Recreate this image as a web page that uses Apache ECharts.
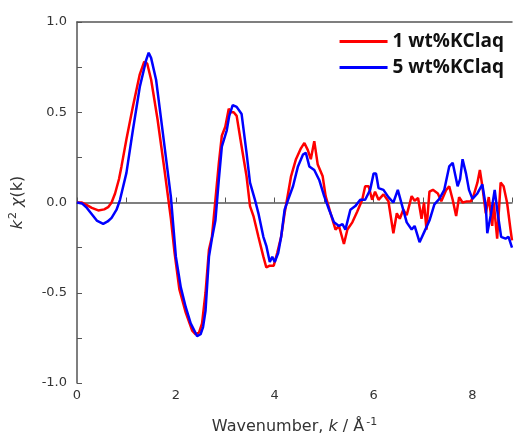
<!DOCTYPE html>
<html>
<head>
<meta charset="utf-8">
<script src="https://cdn.jsdelivr.net/npm/echarts@6/dist/echarts.min.js"></script>
<style>
  html, body { margin: 0; padding: 0; background: #fff; }
  #chart { width: 515px; height: 441px; }
</style>
</head>
<body>
<div id="chart"></div>
<script>
// k (1/Å) and k^2 chi(k)
const kRed = [0, 0.1, 0.2, 0.3, 0.43, 0.55, 0.63, 0.7, 0.77, 0.85, 0.9, 1.0, 1.13, 1.27, 1.36, 1.42, 1.5, 1.63, 1.77, 1.9,
  1.97, 2.07, 2.2, 2.33, 2.4, 2.47, 2.53, 2.6, 2.67, 2.73, 2.8, 2.87, 2.93, 3.0, 3.07, 3.12, 3.17, 3.23, 3.33, 3.43,
  3.5, 3.57, 3.67, 3.77, 3.83, 3.9, 3.98, 4.05, 4.13, 4.2, 4.27, 4.33, 4.43, 4.53, 4.6, 4.67, 4.73, 4.8, 4.87, 4.97,
  5.03, 5.13, 5.23, 5.3, 5.4, 5.47, 5.57, 5.67, 5.77, 5.83, 5.9, 5.97, 6.03, 6.1, 6.2, 6.3, 6.4, 6.47, 6.53, 6.6,
  6.67, 6.77, 6.83, 6.9, 6.97, 7.02, 7.07, 7.13, 7.2, 7.3, 7.37, 7.47, 7.53, 7.6, 7.67, 7.73, 7.8, 7.87, 7.97, 8.03,
  8.1, 8.15, 8.2, 8.27, 8.33, 8.4, 8.43, 8.5, 8.57, 8.63, 8.7, 8.77, 8.8];
const red = [0, 0, -0.015, -0.03, -0.044, -0.038, -0.026, 0.0, 0.05, 0.13, 0.2, 0.35, 0.53, 0.71, 0.78, 0.77, 0.68, 0.46, 0.18, -0.09,
  -0.27, -0.48, -0.61, -0.71, -0.73, -0.72, -0.67, -0.5, -0.26, -0.19, 0.015, 0.22, 0.37, 0.42, 0.52, 0.5, 0.5, 0.48, 0.31, 0.145,
  -0.02, -0.075, -0.19, -0.3, -0.36, -0.35, -0.35, -0.28, -0.19, -0.06, 0.05, 0.145, 0.24, 0.3, 0.33, 0.29, 0.24, 0.34, 0.21, 0.145,
  0.035, -0.06, -0.15, -0.13, -0.23, -0.15, -0.11, -0.05, 0.015, 0.09, 0.09, 0.015, 0.06, 0.015, 0.045, 0.007, -0.17, -0.06, -0.09, -0.04,
  -0.07, 0.035, 0.01, 0.025, -0.09, 0.0, -0.15, 0.06, 0.07, 0.05, 0.007, 0.07, 0.09, 0.015, -0.075, 0.03, 0.0, 0.005, 0.007, 0.045,
  0.11, 0.18, 0.09, -0.06, 0.03, -0.13, 0.0, -0.2, 0.11, 0.09, 0.0, -0.15, -0.21];

const kBlue = [0, 0.1, 0.2, 0.3, 0.4, 0.53, 0.62, 0.7, 0.8, 0.87, 1.0, 1.13, 1.27, 1.4, 1.45, 1.5, 1.6, 1.73, 1.9, 2.0,
  2.1, 2.2, 2.3, 2.43, 2.5, 2.55, 2.6, 2.67, 2.73, 2.8, 2.87, 2.93, 3.03, 3.08, 3.15, 3.23, 3.33, 3.43, 3.5, 3.6,
  3.67, 3.77, 3.83, 3.9, 3.95, 4.0, 4.07, 4.13, 4.2, 4.27, 4.37, 4.47, 4.57, 4.63, 4.7, 4.8, 4.9, 5.0, 5.1, 5.2,
  5.3, 5.37, 5.43, 5.53, 5.63, 5.73, 5.83, 5.93, 6.0, 6.05, 6.1, 6.2, 6.3, 6.4, 6.49, 6.57, 6.67, 6.77, 6.83, 6.93,
  7.03, 7.13, 7.23, 7.33, 7.43, 7.53, 7.6, 7.7, 7.75, 7.8, 7.87, 7.93, 8.0, 8.1, 8.2, 8.27, 8.3, 8.37, 8.45, 8.5,
  8.58, 8.67, 8.73, 8.8];
const blue = [0, -0.005, -0.03, -0.065, -0.1, -0.118, -0.105, -0.085, -0.04, 0.015, 0.164, 0.4, 0.64, 0.79, 0.83, 0.8, 0.68, 0.4, 0.03, -0.3,
  -0.47, -0.58, -0.67, -0.74, -0.73, -0.69, -0.6, -0.3, -0.2, -0.1, 0.13, 0.31, 0.4, 0.48, 0.54, 0.53, 0.49, 0.275, 0.11, 0.015,
  -0.06, -0.19, -0.24, -0.33, -0.3, -0.33, -0.28, -0.19, -0.04, 0.015, 0.09, 0.2, 0.265, 0.275, 0.2, 0.18, 0.125, 0.035, -0.04, -0.11,
  -0.13, -0.12, -0.15, -0.04, -0.02, 0.015, 0.015, 0.07, 0.16, 0.16, 0.08, 0.07, 0.03, 0.0, 0.07, -0.01, -0.11, -0.15, -0.13, -0.22,
  -0.16, -0.1, -0.01, 0.02, 0.07, 0.2, 0.22, 0.09, 0.13, 0.24, 0.16, 0.07, 0.02, 0.05, 0.1, -0.02, -0.17, -0.07, 0.07, -0.04,
  -0.19, -0.2, -0.19, -0.25];

const seriesNames = ['1 wt%KClaq', '5 wt%KClaq'];

const zip = (xs, ys) => xs.map((x, i) => [x, ys[i]]);

const chart = echarts.init(document.getElementById('chart'));
const axisColor = '#555';
const labelFont = { fontFamily: 'DejaVu Sans', fontSize: 13, color: '#333' };

chart.setOption({
  animation: false,
  color: ['#ff0000', '#0000ff'],
  grid: { left: 74, right: 0, top: 22, bottom: 58 },
  legend: {
    data: seriesNames,
    orient: 'vertical',
    right: 6,
    top: 27,
    icon: 'rect',
    itemWidth: 48,
    itemHeight: 3,
    itemGap: 7,
    textStyle: { fontFamily: 'Open Sans', fontWeight: 'bold', fontSize: 19, color: '#111' }
  },
  xAxis: [
    {
      type: 'value',
      min: 0,
      max: 8.8,
      interval: 1,
      name: 'Wavenumber, {i|k} / Å{s|-1}',
      nameLocation: 'middle',
      nameGap: 34,
      nameTextStyle: {
        fontFamily: 'DejaVu Sans', fontSize: 16, color: '#333',
        rich: {
          i: { fontFamily: 'DejaVu Sans', fontSize: 16, fontStyle: 'italic', color: '#333' },
          s: { fontFamily: 'DejaVu Sans', fontSize: 11, color: '#333', verticalAlign: 'top', padding: [0, 0, 8, 2] }
        }
      },
      axisLine: { show: true, lineStyle: { color: axisColor, width: 1.5 } },
      axisTick: { show: true, inside: true, length: 5, lineStyle: { color: axisColor } },
      axisLabel: Object.assign({ margin: 6, formatter: v => (Math.abs(v % 2) < 1e-9 ? String(v) : '') }, labelFont),
      splitLine: { show: false }
    },
    {
      type: 'value',
      position: 'top',
      min: 0,
      max: 8.8,
      axisLine: { show: true, lineStyle: { color: axisColor, width: 1.5 } },
      axisTick: { show: false },
      axisLabel: { show: false },
      splitLine: { show: false }
    }
  ],
  yAxis: {
    type: 'value',
    min: -1,
    max: 1,
    interval: 0.25,
    name: '{i|k}{s|2} {i|χ}(k)',
    nameLocation: 'middle',
    nameGap: 50,
    nameRotate: 90,
    nameTextStyle: {
      fontFamily: 'DejaVu Sans', fontSize: 16, color: '#333',
      rich: {
        i: { fontFamily: 'DejaVu Sans', fontSize: 16, fontStyle: 'italic', color: '#333' },
        s: { fontFamily: 'DejaVu Sans', fontSize: 11, color: '#333', verticalAlign: 'top', padding: [0, 0, 8, 1] }
      }
    },
    axisLine: { show: true, lineStyle: { color: axisColor, width: 1.5 } },
    axisTick: { show: true, inside: true, length: 5, lineStyle: { color: axisColor } },
    axisLabel: Object.assign({
      margin: 10,
      formatter: v => (Math.abs((v * 2) % 1) < 1e-9 ? v.toFixed(1) : '')
    }, labelFont),
    splitLine: { show: false }
  },
  series: [
    {
      name: seriesNames[0],
      type: 'line',
      data: zip(kRed, red),
      showSymbol: false,
      lineStyle: { width: 2.5 }
    },
    {
      name: seriesNames[1],
      type: 'line',
      data: zip(kBlue, blue),
      showSymbol: false,
      lineStyle: { width: 2.5 }
    }
  ]
});
</script>
</body>
</html>
